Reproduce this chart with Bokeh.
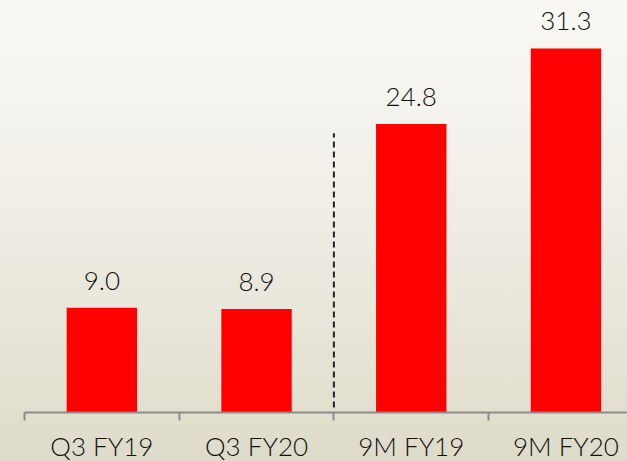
from bokeh.plotting import figure
from bokeh.models import FixedTicker, Range1d, ColumnDataSource
from bokeh.core.properties import value
from bokeh.embed import file_html
from bokeh.resources import INLINE

categories = ["Q3 FY19", "Q3 FY20", "9M FY19", "9M FY20"]
values = [9.0, 8.9, 24.8, 31.3]
value_labels = ["9.0", "8.9", "24.8", "31.3"]
positions = [0, 1, 2, 3]
divider_x = [1.5]
divider_y0 = [0.43]
divider_y1 = [24.0]

FONT = "'Lato Light', Lato"

p = figure(width=627, height=464, output_backend="svg", toolbar_location=None,
           x_range=Range1d(-0.5, 3.398), y_range=Range1d(0, 35.42),
           y_axis_location=None, min_border_left=24, min_border_right=0,
           min_border_top=0, min_border_bottom=0)
p.background_fill_alpha = 0
p.border_fill_alpha = 0
p.outline_line_color = None
p.grid.visible = False

src = ColumnDataSource(dict(x=positions, top=values, lab=value_labels))
p.vbar(x="x", top="top", width=0.455, bottom=0, source=src,
       fill_color="#ff0000", line_color=None)
p.text(x="x", y="top", text="lab", source=src, text_align="center",
       text_baseline="alphabetic", y_offset=-27, text_font=value(FONT),
       text_font_size="26px", text_color="#111111")

p.segment(x0=divider_x, y0=divider_y0, x1=divider_x, y1=divider_y1,
          line_color="#222222", line_width=2, line_dash="6 4")

ax = p.xaxis[0]
ax.ticker = FixedTicker(ticks=positions, minor_ticks=[-0.5, 0.5, 1.5, 2.5])
ax.major_label_overrides = {i: c for i, c in zip(positions, categories)}
ax.major_tick_line_color = None
ax.major_tick_out = 0
ax.major_tick_in = 0
ax.minor_tick_line_color = "#8c8c8c"
ax.minor_tick_line_width = 2
ax.minor_tick_out = 8
ax.minor_tick_in = 0
ax.axis_line_color = "#8c8c8c"
ax.axis_line_width = 2
ax.major_label_standoff = 9
ax.major_label_text_font = FONT
ax.major_label_text_font_size = "26px"
ax.major_label_text_color = "#111111"

html = file_html(p, INLINE)
style = ("<style>html,body{overflow:hidden;}"
         "html{height:100%;background:linear-gradient(to bottom,#f9f8f4 0%,#f1efe8 40%,#dfdbca 100%);}"
         "</style>")
html = html.replace("<head>", "<head>" + style, 1)
open("out.html", "w").write(html)
